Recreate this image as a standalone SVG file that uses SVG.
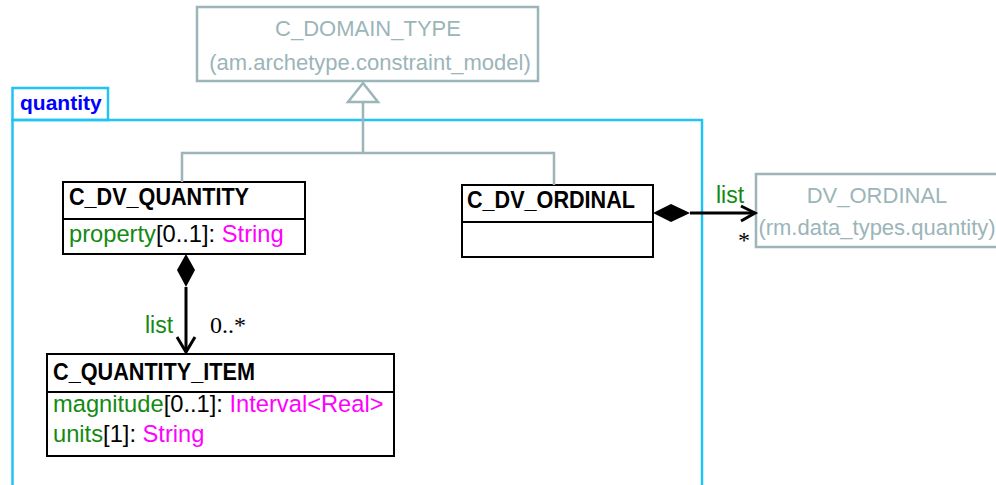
<svg xmlns="http://www.w3.org/2000/svg" width="996" height="485" viewBox="0 0 996 485">
<style>
  text { font-family: "Liberation Sans", Arial, sans-serif; }
  .ext { fill: none; stroke: #9bb5b9; stroke-width: 2.5; }
  .extt { fill: #9bb5b9; font-size: 22px; text-anchor: middle; }
  .cls { fill: #ffffff; stroke: #000000; stroke-width: 2; }
  .div { stroke: #000000; stroke-width: 2; }
  .title { fill: #000000; font-size: 24.5px; font-weight: bold; }
  .attr { font-size: 23.7px; fill: #000000; }
  .g { fill: #138a13; }
  .m { fill: #ff00ff; }
  .pkg { fill: none; stroke: #20c4f4; stroke-width: 2.5; }
  .gen { fill: none; stroke: #9bb5b9; stroke-width: 2.5; }
  .comp { fill: none; stroke: #000000; stroke-width: 3; }
  .lbl { fill: #138a13; font-size: 23px; }
  .mult { font-family: "Liberation Serif", "Times New Roman", serif; font-size: 24px; fill: #000000; }
</style>

<g id="pkg-quantity">
  <rect class="pkg" x="12.5" y="88" width="95.5" height="32"/>
  <rect class="pkg" x="12.5" y="120" width="689.5" height="380"/>
  <text x="20" y="110" font-size="21" font-weight="bold" fill="#0000ff">quantity</text>
</g>

<g id="C_DOMAIN_TYPE">
  <rect class="ext" x="197" y="7" width="341" height="74" fill="#ffffff"/>
  <text class="extt" x="368" y="36">C_DOMAIN_TYPE</text>
  <text class="extt" x="370" y="70">(am.archetype.constraint_model)</text>
</g>

<g id="DV_ORDINAL">
  <rect class="ext" x="756" y="174" width="244" height="73" fill="#ffffff"/>
  <text class="extt" x="877" y="203">DV_ORDINAL</text>
  <text class="extt" x="877" y="235">(rm.data_types.quantity)</text>
</g>

<g id="C_DV_QUANTITY">
  <rect class="cls" x="63" y="182" width="242" height="72"/>
  <line class="div" x1="63" y1="219" x2="305" y2="219"/>
  <text class="title" x="69" y="205" textLength="180" lengthAdjust="spacingAndGlyphs">C_DV_QUANTITY</text>
  <text class="attr" x="69" y="242"><tspan class="g">property</tspan>[0..1]: <tspan class="m">String</tspan></text>
</g>

<g id="C_DV_ORDINAL">
  <rect class="cls" x="462" y="185" width="191" height="72"/>
  <line class="div" x1="462" y1="222" x2="653" y2="222"/>
  <text class="title" x="467" y="208" textLength="168" lengthAdjust="spacingAndGlyphs">C_DV_ORDINAL</text>
</g>

<g id="C_QUANTITY_ITEM">
  <rect class="cls" x="47" y="354" width="347" height="102"/>
  <line class="div" x1="47" y1="392" x2="394" y2="392"/>
  <text class="title" x="53" y="380" textLength="202" lengthAdjust="spacingAndGlyphs">C_QUANTITY_ITEM</text>
  <text class="attr" x="53" y="412"><tspan class="g">magnitude</tspan>[0..1]: <tspan class="m">Interval&lt;Real&gt;</tspan></text>
  <text class="attr" x="53" y="442"><tspan class="g">units</tspan>[1]: <tspan class="m">String</tspan></text>
</g>

<g id="connectors">
  <!-- generalization -->
  <polyline class="gen" points="182,182 182,153 554,153 554,185"/>
  <line class="gen" x1="363" y1="153" x2="363" y2="102"/>
  <polygon points="363,83 348,102 378,102" fill="#ffffff" stroke="#9bb5b9" stroke-width="2.5"/>
  <!-- composition C_DV_QUANTITY -> C_QUANTITY_ITEM -->
  <polygon points="186,254 195,270 186,287 177,270" fill="#000000"/>
  <line class="comp" x1="186" y1="287" x2="186" y2="352"/>
  <polyline class="comp" points="177,337 186,352 195,337"/>
  <text class="lbl" x="145" y="333">list</text>
  <text class="mult" x="210" y="333">0..*</text>
  <!-- composition C_DV_ORDINAL -> DV_ORDINAL -->
  <polygon points="653,213 671,204 690,213 671,222" fill="#000000"/>
  <line class="comp" x1="690" y1="213" x2="755" y2="213"/>
  <polyline class="comp" points="741,206 755,213 741,221"/>
  <text class="lbl" x="716" y="203">list</text>
  <text class="mult" x="738" y="248" font-size="20">*</text>
</g>
</svg>
